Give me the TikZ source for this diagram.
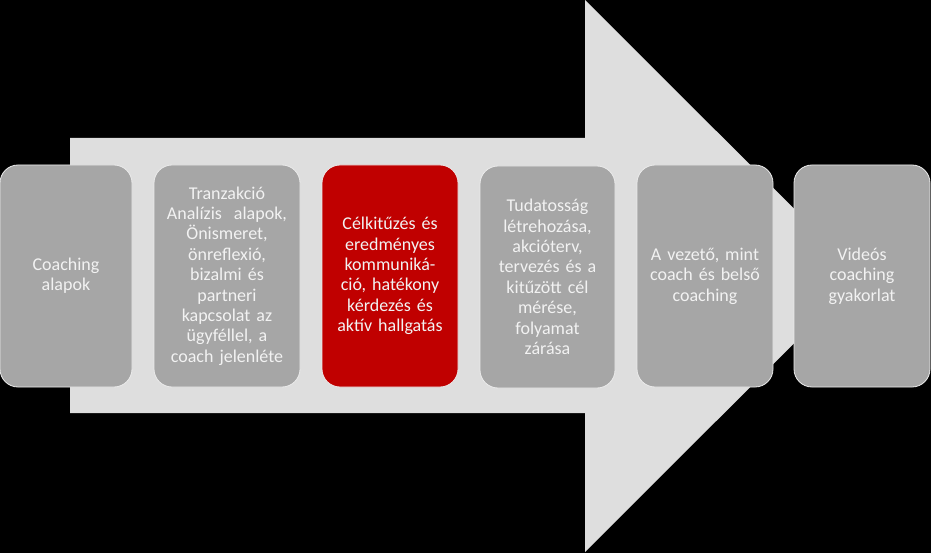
\documentclass[tikz,border=0pt]{standalone}
\usepackage{fontspec}
\setmainfont{Carlito}
\usepackage{tikz}
\usetikzlibrary{positioning}
\definecolor{arrowgray}{RGB}{222,222,222}
\definecolor{boxgray}{RGB}{166,166,166}
\definecolor{boxred}{RGB}{192,0,0}
\definecolor{textwhite}{RGB}{242,242,242}

\begin{document}
\begin{tikzpicture}[x=1pt,y=-1pt]
		\useasboundingbox (0,0) rectangle (931,553);
		\fill[black] (0,0) rectangle (931,553);

		% big arrow
		\fill[arrowgray] (70,138) -- (585,138) -- (585,0) -- (861.5,276) -- (585,552) -- (585,413) -- (70,413) -- cycle;

		\begin{scope}[every node/.style={rounded corners=18pt,draw=white!85!gray,line width=0.8pt,fill=boxgray,text=textwhite,inner sep=0pt,minimum height=222pt,align=center,font=\fontsize{18}{20.4}\selectfont}]
			\node[text width=132pt] (coach) at (66,276) {Coaching\\alapok};
			\node[text width=146pt] (ta) at (227,276) {Tranzakció\\Analízis\ \ alapok,\\Önismeret,\\önreflexió,\\bizalmi és\\partneri\\kapcsolat az\\ügyféllel, a\\coach jelenléte};
			\node[text width=136pt,fill=boxred] (cel) at (390,276) {Célkitűzés és\\eredményes\\kommuniká-\\ció, hatékony\\kérdezés és\\aktív hallgatás};
			\node[text width=135pt] (tud) at (547.5,277) {Tudatosság\\létrehozása,\\akcióterv,\\tervezés és a\\kitűzött cél\\mérése,\\folyamat\\zárása};
			\node[text width=136pt] (vez) at (705,276) {A vezető, mint\\coach és belső\\coaching};
			\node[text width=136pt] (video) at (862,276) {Videós\\coaching\\gyakorlat};
		\end{scope}
	\end{tikzpicture}
\end{document}
